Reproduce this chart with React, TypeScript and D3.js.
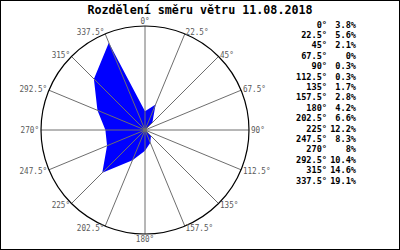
import React from "react";
import * as d3 from "d3";

const directions = [0, 22.5, 45, 67.5, 90, 112.5, 135, 157.5, 180, 202.5, 225, 247.5, 270, 292.5, 315, 337.5];
const directionLabels = ["0°", "22.5°", "45°", "67.5°", "90°", "112.5°", "135°", "157.5°", "180°", "202.5°", "225°", "247.5°", "270°", "292.5°", "315°", "337.5°"];
const percents = [3.8, 5.6, 2.1, 0, 0.3, 0.3, 1.7, 2.8, 4.2, 6.6, 12.2, 8.3, 8, 10.4, 14.6, 19.1];
const percentLabels = ["3.8%", "5.6%", "2.1%", "0%", "0.3%", "0.3%", "1.7%", "2.8%", "4.2%", "6.6%", "12.2%", "8.3%", "8%", "10.4%", "14.6%", "19.1%"];
const title = "Rozdělení směru větru 11.08.2018";

export default function App() {
  const W = 400, H = 250;
  const cx = 145, cy = 130, R = 104;
  const maxV = d3.max(percents)! * 1.1;
  const rScale = d3.scaleLinear().domain([0, maxV]).range([0, R]);
  const ang = (d: number) => (d * Math.PI) / 180;

  const line = d3
    .lineRadial<number>()
    .angle((_, i) => ang(directions[i]))
    .radius((v) => rScale(v))
    .curve(d3.curveLinearClosed);

  const legendY = d3.scaleLinear().domain([0, directions.length - 1]).range([24.5, 180.5]);

  return (
    <svg width={W} height={H} style={{ position: "absolute", left: 0, top: 0, background: "#fff" }}>
      <rect x={0.5} y={0.5} width={W - 1} height={H - 1} fill="#fff" stroke="#000" />
      <text x={200} y={13.5} textAnchor="middle" fontFamily="DejaVu Sans Mono" fontWeight="bold" fontSize={11.7} fill="#000">
        {title}
      </text>
      <g transform={`translate(${cx},${cy})`}>
        <path d={line(percents) || ""} fill="#0000ff" stroke="none" />
        {directions.map((d, i) => (
          <line
            key={"s" + i}
            x1={0}
            y1={0}
            x2={R * Math.sin(ang(d))}
            y2={-R * Math.cos(ang(d))}
            stroke="#6e6e6e"
            strokeWidth={1}
          />
        ))}
        <circle r={R} fill="none" stroke="#000" strokeWidth={1.2} />
        {directions.map((d, i) => {
          const s = Math.sin(ang(d));
          const c = Math.cos(ang(d));
          const anchor = Math.abs(s) < 0.01 ? "middle" : s > 0 ? "start" : "end";
          const rr = Math.abs(s) < 0.01 ? 109 : 106;
          const label = directionLabels[i];
          return (
            <text
              key={"l" + i}
              x={rr * s}
              y={-rr * c}
              textAnchor={anchor}
              dominantBaseline="central"
              fontFamily="DejaVu Sans Mono"
              fontSize={9}
              textLength={label.length * 4.6}
              lengthAdjust="spacingAndGlyphs"
              fill="#5a5a5a"
            >
              {label}
            </text>
          );
        })}
      </g>
      {directions.map((d, i) => (
        <g key={"g" + i} fontFamily="DejaVu Sans Mono" fontSize={8.6} fill="#000" fontWeight="bold">
          <text x={327} y={legendY(i)} textAnchor="end" dominantBaseline="central">
            {directionLabels[i]}
          </text>
          <text x={356} y={legendY(i)} textAnchor="end" dominantBaseline="central">
            {percentLabels[i]}
          </text>
        </g>
      ))}
    </svg>
  );
}
